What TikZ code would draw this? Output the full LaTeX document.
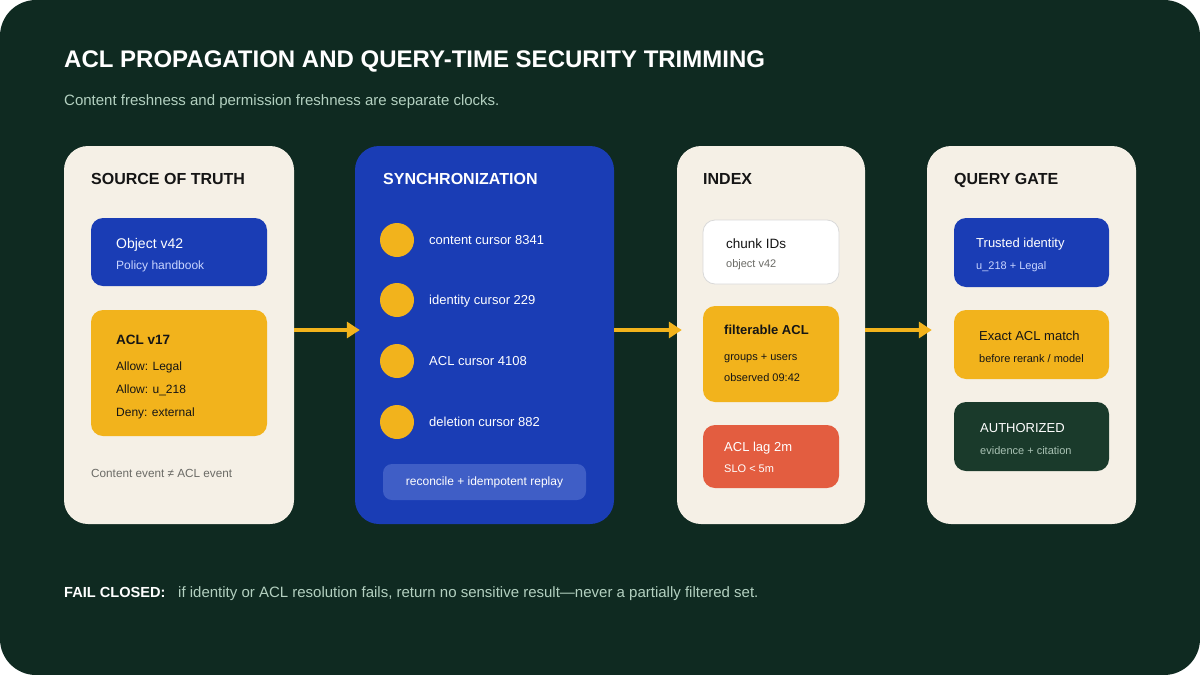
\documentclass[tikz,border=0pt]{standalone}
\usepackage{fontspec}
\setmainfont{Liberation Sans}
\usetikzlibrary{arrows.meta}
\definecolor{bgc}{HTML}{0F2A21}
\definecolor{cream}{HTML}{F5F0E6}
\definecolor{bluec}{HTML}{1A3DB5}
\definecolor{yel}{HTML}{F2B31C}
\definecolor{redc}{HTML}{E35D40}
\definecolor{dgreen}{HTML}{1A3A2B}
\definecolor{recon}{HTML}{3F5EC6}
\definecolor{subtxt}{HTML}{B3D0C0}
\definecolor{lblue}{HTML}{C9D5FF}
\definecolor{grayt}{HTML}{6B6B66}
\definecolor{evid}{HTML}{A9C2B4}
\definecolor{ink}{HTML}{151515}
\newcommand{\fs}[1]{\fontsize{#1}{#1}\selectfont}
\tikzset{
  panel/.style={rectangle, rounded corners=24pt, inner sep=0pt},
  card/.style={rectangle, rounded corners=12pt, inner sep=0pt},
  txt/.style={anchor=base west, inner sep=0pt},
  arr/.style={draw=yel, line width=4pt, -{Triangle[length=13pt,width=16pt]}, shorten >=-5pt},
  dot/.style={circle, fill=yel, minimum size=34pt, inner sep=0pt}
}
\begin{document}
\begin{tikzpicture}[x=1pt,y=-1pt]
\useasboundingbox (0,0) rectangle (1200,675);
\fill[white] (0,0) rectangle (1200,675);
\fill[bgc, rounded corners=36pt] (0,0) rectangle (1200,675);

% title
\node[txt, text=white, font=\fs{24}\bfseries] (title) at (64,67.5) {ACL PROPAGATION AND QUERY-TIME SECURITY TRIMMING};
\node[txt, text=subtxt, font=\fs{15}] (subtitle) at (64,105) {Content freshness and permission freshness are separate clocks.};

% panels
\node[panel, fill=cream, minimum width=230pt, minimum height=378pt] (src) at (179,335) {};
\node[panel, fill=bluec, minimum width=259pt, minimum height=378pt] (sync) at (484.5,335) {};
\node[panel, fill=cream, minimum width=188pt, minimum height=378pt] (idx) at (771,335) {};
\node[panel, fill=cream, minimum width=209pt, minimum height=378pt] (gate) at (1031.5,335) {};

% headers
\node[txt, text=ink, font=\fs{16}\bfseries] (h1) at (91,184) {SOURCE OF TRUTH};
\node[txt, text=white, font=\fs{16}\bfseries] (h2) at (383,184) {SYNCHRONIZATION};
\node[txt, text=ink, font=\fs{16}\bfseries] (h3) at (703,184) {INDEX};
\node[txt, text=ink, font=\fs{16}\bfseries] (h4) at (954,184) {QUERY GATE};

% source of truth
\node[card, fill=bluec, minimum width=176pt, minimum height=68pt] (obj) at (179,252) {};
\node[txt, text=white, font=\fs{14}] (objt) at (116,248) {Object v42};
\node[txt, text=lblue, font=\fs{12}] (objs) at (116,269.5) {Policy handbook};
\node[card, fill=yel, minimum width=176pt, minimum height=126pt] (acl) at (179,373) {};
\node[txt, text=ink, font=\fs{13.5}\bfseries] (aclt) at (116,344) {ACL v17};
\node[txt, text=ink, font=\fs{12}] (acl1) at (116,370.5) {Allow: Legal};
\node[txt, text=ink, font=\fs{12}] (acl2) at (116,393.5) {Allow: u\_218};
\node[txt, text=ink, font=\fs{12}] (acl3) at (116,416.5) {Deny: external};
\node[txt, text=grayt, font=\fs{11.75}] (evt) at (91,477) {Content event ≠ ACL event};

% synchronization
\node[dot] (d1) at (397,240) {};
\node[dot] (d2) at (397,300) {};
\node[dot] (d3) at (397,361) {};
\node[dot] (d4) at (397,422) {};
\node[txt, text=white, font=\fs{13}] (c1) at (429,244.7) {content cursor 8341};
\node[txt, text=white, font=\fs{13}] (c2) at (429,304.7) {identity cursor 229};
\node[txt, text=white, font=\fs{13}] (c3) at (429,365.7) {ACL cursor 4108};
\node[txt, text=white, font=\fs{13}] (c4) at (429,426.7) {deletion cursor 882};
\node[card, rounded corners=9pt, fill=recon, minimum width=203pt, minimum height=36pt, text=white, font=\fs{12}] (rec) at (484.5,482) {reconcile + idempotent replay};

% index
\node[card, fill=white, draw=black!15, line width=0.8pt, minimum width=136pt, minimum height=64pt] (chunk) at (771,252) {};
\node[txt, text=ink, font=\fs{13.5}] (chunkt) at (726,248) {chunk IDs};
\node[txt, text=grayt, font=\fs{11}] (chunks) at (726,267) {object v42};
\node[card, fill=yel, minimum width=136pt, minimum height=96pt] (facl) at (771,354) {};
\node[txt, text=ink, font=\fs{13}\bfseries] (faclt) at (724,334.7) {filterable ACL};
\node[txt, text=ink, font=\fs{11}] (facl1) at (724,360) {groups + users};
\node[txt, text=ink, font=\fs{11}] (facl2) at (724,381) {observed 09:42};
\node[card, fill=redc, minimum width=136pt, minimum height=63pt] (lag) at (771,456.5) {};
\node[txt, text=white, font=\fs{13}] (lagt) at (724,451.7) {ACL lag 2m};
\node[txt, text=white, font=\fs{11}] (lags) at (724,472) {SLO < 5m};

% query gate
\node[card, fill=bluec, minimum width=155pt, minimum height=69pt] (trust) at (1031.5,252.5) {};
\node[txt, text=white, font=\fs{13}] (trustt) at (976,247.7) {Trusted identity};
\node[txt, text=lblue, font=\fs{11}] (trusts) at (976,269) {u\_218 + Legal};
\node[card, fill=yel, minimum width=155pt, minimum height=69pt] (match) at (1031.5,344.5) {};
\node[txt, text=ink, font=\fs{13}] (matcht) at (979,340.7) {Exact ACL match};
\node[txt, text=ink, font=\fs{11}] (matchs) at (979,362) {before rerank / model};
\node[card, fill=dgreen, minimum width=155pt, minimum height=69pt] (auth) at (1031.5,436.5) {};
\node[txt, text=white, font=\fs{13}] (autht) at (980,432.7) {AUTHORIZED};
\node[txt, text=evid, font=\fs{11}] (auths) at (980,454) {evidence + citation};

% arrows
\draw[arr] ([yshift=5pt]src.east) -- ([yshift=5pt]sync.west);
\draw[arr] ([yshift=5pt]sync.east) -- ([yshift=5pt]idx.west);
\draw[arr] ([yshift=5pt]idx.east) -- ([yshift=5pt]gate.west);

% footer
\node[txt, text=white, font=\fs{14.6}\bfseries] (fail) at (64,597) {FAIL CLOSED:};
\node[txt, text=subtxt, font=\fs{15}] (failt) at (178,597) {if identity or ACL resolution fails, return no sensitive result—never a partially filtered set.};
\end{tikzpicture}
\end{document}
